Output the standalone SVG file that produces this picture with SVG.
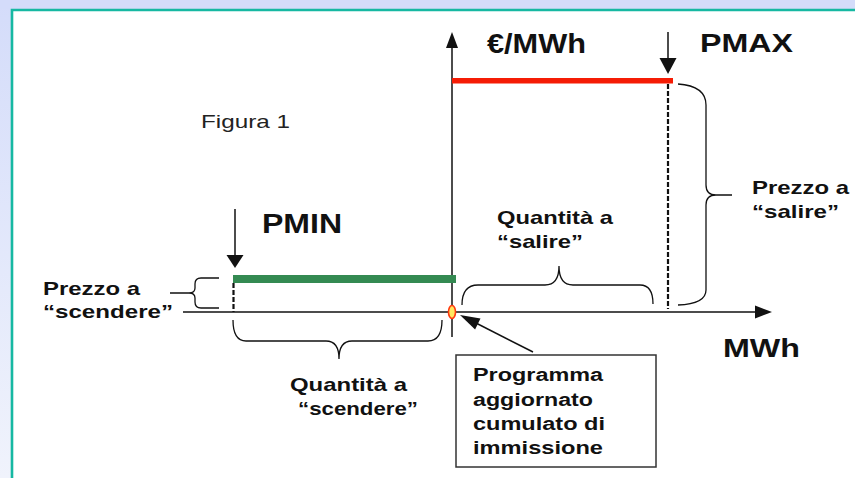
<svg xmlns="http://www.w3.org/2000/svg" width="855" height="478" viewBox="0 0 855 478">
  <defs>
    <linearGradient id="bg" x1="0" y1="0" x2="0" y2="1">
      <stop offset="0" stop-color="#d4dcfa"/>
      <stop offset="1" stop-color="#f0f3fc"/>
    </linearGradient>
  </defs>
  <style>
    .lbl { font-family: "Liberation Sans", Arial, sans-serif; font-weight: bold; fill: #111; }
    .reg { font-family: "Liberation Sans", Arial, sans-serif; fill: #222; }
    .ln { stroke: #111; stroke-width: 1.5; fill: none; }
    .br { stroke: #111; stroke-width: 1.3; fill: none; }
    .dash { stroke: #111; stroke-width: 2.2; stroke-dasharray: 5 2; fill: none; }
    .head { fill: #111; stroke: none; }
  </style>

  <!-- background and frame -->
  <rect x="0" y="0" width="855" height="478" fill="url(#bg)"/>
  <rect x="0" y="0" width="855" height="9" fill="#d4dcfa"/>
  <rect x="12" y="10" width="843" height="468" fill="#ffffff"/>
  <path d="M12,478 L12,10 L855,10" stroke="#16b8a2" stroke-width="2.6" fill="none"/>

  <g id="title">
    <text class="reg" x="201" y="128" font-size="19" textLength="89" lengthAdjust="spacingAndGlyphs">Figura 1</text>
  </g>

  <!-- connectors / axes -->
  <g id="connectors">
    <!-- y axis -->
    <line class="ln" x1="452" y1="337" x2="452" y2="46"/>
    <polygon class="head" points="446,48 458,48 452,32"/>
    <!-- x axis -->
    <line class="ln" x1="183" y1="312" x2="757" y2="312"/>
    <polygon class="head" points="755,305.5 755,318.5 772,312"/>
    <!-- PMIN arrow -->
    <line class="ln" x1="235" y1="209" x2="235" y2="257"/>
    <polygon class="head" points="226.5,255 243.5,255 235,268"/>
    <!-- PMAX arrow -->
    <line class="ln" x1="668" y1="32" x2="668" y2="60"/>
    <polygon class="head" points="659.5,58 676.5,58 668,74"/>
    <!-- box arrow -->
    <line class="ln" x1="533" y1="352" x2="474" y2="322"/>
    <polygon class="head" points="460,315 480.5,318.6 475.1,329.4"/>
    <!-- dashed verticals -->
    <line class="dash" x1="233.5" y1="283" x2="233.5" y2="312"/>
    <line class="dash" x1="668" y1="84" x2="668" y2="309"/>
  </g>

  <!-- price bars -->
  <g id="pmax-bar">
    <rect x="452" y="78" width="221" height="5.5" fill="#f51c05"/>
  </g>
  <g id="pmin-bar">
    <rect x="233" y="275" width="223" height="8" fill="#348a52"/>
  </g>

  <g id="origin">
    <ellipse cx="452" cy="312" rx="3.5" ry="6.5" fill="#ffe860" stroke="#ff3a10" stroke-width="1.6"/>
  </g>

  <!-- braces -->
  <g id="brace-prezzo-scendere">
    <path class="br" d="M219,278 L201,278 Q195,278 195,284 L195,288 Q195,293 189,293 L170,293 M189,293 Q195,293 195,298 L195,302 Q195,308 201,308 L219,308"/>
  </g>
  <g id="brace-prezzo-salire">
    <path class="br" d="M678,84 Q706,86 706,105 L706,185 Q706,195 716,195 L732,195 M716,195 Q706,195 706,205 L706,290 Q706,304 678,305"/>
  </g>
  <g id="brace-quantita-salire">
    <path class="br" d="M462,305 Q462,285 478,285 L545,285 Q559,285 559,266 Q559,285 573,285 L640,285 Q653,285 653,304"/>
  </g>
  <g id="brace-quantita-scendere">
    <path class="br" d="M442,320 Q442,341 428,341 L352,341 Q339,341 339,359 Q339,341 326,341 L246,341 Q233,341 233,320"/>
  </g>

  <!-- labels -->
  <g id="label-eur">
    <text class="lbl" x="487" y="53" font-size="27" textLength="99" lengthAdjust="spacingAndGlyphs">€/MWh</text>
  </g>
  <g id="label-pmax">
    <text class="lbl" x="700" y="52" font-size="25" textLength="93" lengthAdjust="spacingAndGlyphs">PMAX</text>
  </g>
  <g id="label-pmin">
    <text class="lbl" x="262" y="233" font-size="27" textLength="80" lengthAdjust="spacingAndGlyphs">PMIN</text>
  </g>
  <g id="label-mwh">
    <text class="lbl" x="723" y="357" font-size="26" textLength="77" lengthAdjust="spacingAndGlyphs">MWh</text>
  </g>
  <g id="label-prezzo-scendere">
    <text class="lbl" x="43" y="295" font-size="19" textLength="97" lengthAdjust="spacingAndGlyphs">Prezzo a</text>
    <text class="lbl" x="43" y="318" font-size="19" textLength="130" lengthAdjust="spacingAndGlyphs">“scendere”</text>
  </g>
  <g id="label-prezzo-salire">
    <text class="lbl" x="752" y="194" font-size="19" textLength="97" lengthAdjust="spacingAndGlyphs">Prezzo a</text>
    <text class="lbl" x="752" y="218" font-size="19" textLength="87" lengthAdjust="spacingAndGlyphs">“salire”</text>
  </g>
  <g id="label-quantita-salire">
    <text class="lbl" x="497" y="224" font-size="19" textLength="116" lengthAdjust="spacingAndGlyphs">Quantità a</text>
    <text class="lbl" x="497" y="248" font-size="19" textLength="86" lengthAdjust="spacingAndGlyphs">“salire”</text>
  </g>
  <g id="label-quantita-scendere">
    <text class="lbl" x="290" y="391" font-size="19" textLength="117" lengthAdjust="spacingAndGlyphs">Quantità a</text>
    <text class="lbl" x="298" y="415" font-size="19" textLength="120" lengthAdjust="spacingAndGlyphs">“scendere”</text>
  </g>

  <g id="box-programma">
    <rect x="456" y="355" width="200" height="112" fill="#ffffff" stroke="#333" stroke-width="1.5"/>
    <text class="lbl" x="473" y="381" font-size="18" textLength="130" lengthAdjust="spacingAndGlyphs">Programma</text>
    <text class="lbl" x="473" y="406" font-size="18" textLength="120" lengthAdjust="spacingAndGlyphs">aggiornato</text>
    <text class="lbl" x="473" y="430" font-size="18" textLength="132" lengthAdjust="spacingAndGlyphs">cumulato di</text>
    <text class="lbl" x="473" y="454" font-size="18" textLength="130" lengthAdjust="spacingAndGlyphs">immissione</text>
  </g>
</svg>
